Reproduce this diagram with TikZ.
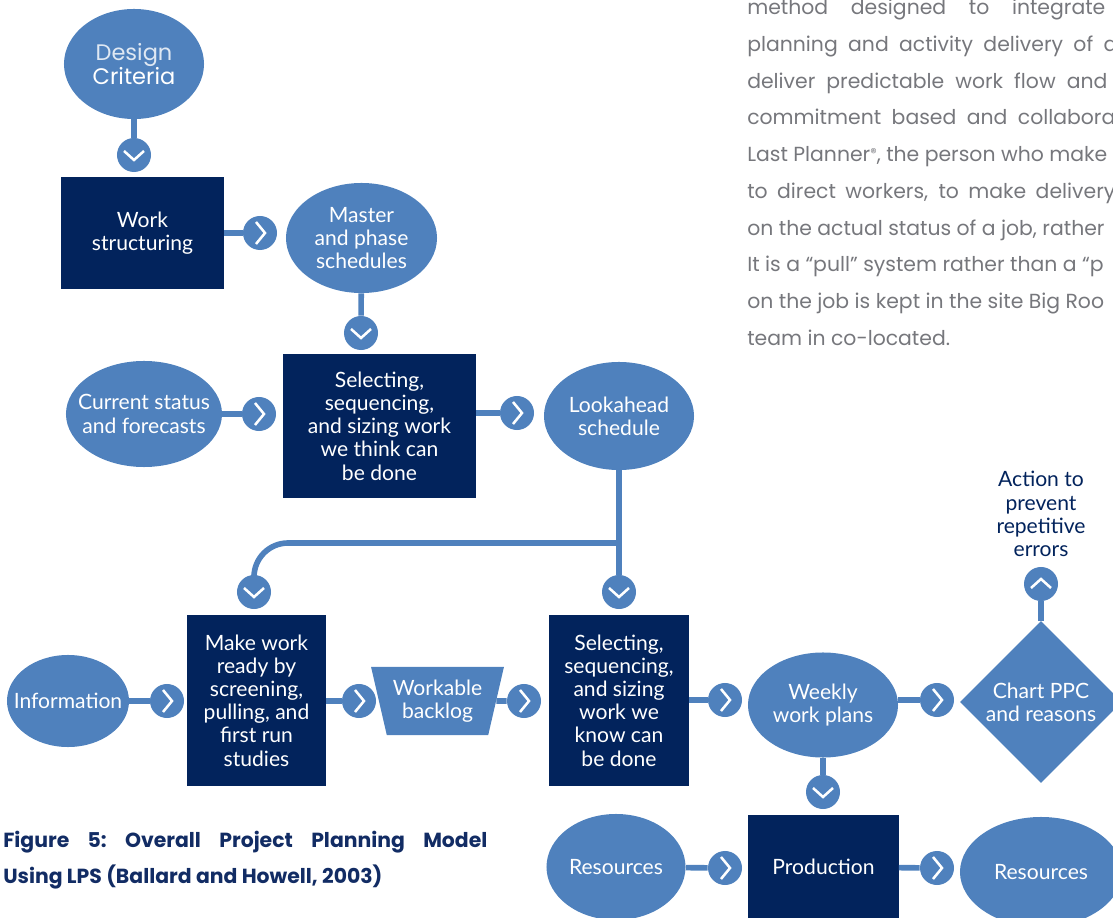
\documentclass[tikz,border=0pt]{standalone}
\usepackage{fontspec}
\setmainfont{Lato}
\newfontfamily\gothfont{Poppins}
\usetikzlibrary{shapes.geometric}

\definecolor{lpsblue}{RGB}{79,129,189}
\definecolor{lpsnavy}{RGB}{2,35,92}
\definecolor{paragray}{RGB}{118,119,124}
\definecolor{capnavy}{RGB}{18,44,100}

\newcommand{\diagfont}{\fontsize{15}{16.5}\selectfont}
\newcommand{\parafont}{\gothfont\fontsize{14.5}{16}\selectfont}

\tikzset{
  oval/.style={ellipse, fill=lpsblue, inner sep=0pt},
  intext/.style={text=white, align=center, font=\diagfont, inner sep=0pt},
  task/.style={rectangle, fill=lpsnavy, inner sep=0pt, text=white, align=center, font=\diagfont},
  link/.style={draw=lpsblue, line width=4pt},
  chev/.style={draw=white, line width=1.8pt},
  hop/.style={circle, fill=lpsblue, minimum size=0.85cm, inner sep=0pt},
  hopright/.style={hop, path picture={\draw[chev] ([shift={(-4,-11)}]path picture bounding box.center) -- ++(9,11) -- ++(-9,11);}},
  hopdown/.style={hop, path picture={\draw[chev] ([shift={(-10,-4)}]path picture bounding box.center) -- ++(10,9) -- ++(10,-9);}},
  hopup/.style={hop, path picture={\draw[chev] ([shift={(-10,4)}]path picture bounding box.center) -- ++(10,-9) -- ++(10,9);}},
  para/.style={anchor=base west, inner sep=0pt, text=paragray, font=\parafont},
  caption/.style={anchor=base west, inner sep=0pt, text=capnavy, font=\gothfont\bfseries\frenchspacing\fontsize{14.5}{16}\selectfont}
}

\begin{document}
\begin{tikzpicture}[x=0.025cm, y=-0.025cm]
  \path[use as bounding box, clip] (0,0) rectangle (1113,918);

  \node[oval, minimum width=3.5cm, minimum height=2.75cm,
    label={[intext, font=\gothfont\fontsize{16}{17}\selectfont]center:{\color{white!82!lpsblue}Design}\\Criteria}] (design) at (134,64) {};
  \node[hopdown] (hop1) at (134,155) {};
  \node[task, minimum width=4.075cm, minimum height=2.775cm] (work) at (142.5,233) {Work\\structuring};
  \node[hopright] (hop2) at (260,233) {};
  \node[oval, minimum width=3.775cm, minimum height=2.75cm,
    label={[intext]center:Master\\and phase\\schedules}] (master) at (361.5,238) {};
  \node[hopdown] (hop3) at (361,333) {};

  \node[oval, minimum width=3.9cm, minimum height=2.65cm,
    label={[intext]center:Current status\\and forecasts}] (current) at (144,414) {};
  \node[hopright] (hop4) at (259,414) {};
  \node[task, minimum width=4.825cm, minimum height=3.6cm] (select1) at (379.5,426) {Selecting,\\sequencing,\\and sizing work\\we think can\\be done};
  \node[hopright] (hop5) at (517,413) {};
  \node[oval, minimum width=3.75cm, minimum height=2.7cm,
    label={[intext]center:Lookahead\\schedule}] (lookahead) at (619,416) {};
  \coordinate (branch) at (619,543);
  \node[hopdown] (hop6) at (619,592) {};
  \node[hopdown] (hop7) at (254,592) {};

  \node[oval, minimum width=3.05cm, minimum height=2.3cm,
    label={[intext]center:Information}] (info) at (68,701) {};
  \node[hopright] (hop8) at (167,701) {};
  \node[task, minimum width=3.475cm, minimum height=4.275cm] (ready) at (256.5,700.5) {Make work\\ready by\\screening,\\pulling, and\\first run\\studies};
  \node[hopright] (hop9) at (359,701) {};
  \node[trapezium, shape border rotate=180, trapezium left angle=72, trapezium right angle=72,
    trapezium stretches=true, fill=lpsblue, intext, minimum width=3.325cm, minimum height=1.7cm] (backlog) at (437.5,701) {Workable\\backlog};
  \node[hopright] (hop10) at (524,701) {};
  \node[task, minimum width=3.5cm, minimum height=4.275cm] (select2) at (619,700.5) {Selecting,\\sequencing,\\and sizing\\work we\\know can\\be done};
  \node[hopright] (hop11) at (725,700) {};
  \node[oval, minimum width=3.75cm, minimum height=2.625cm,
    label={[intext]center:Weekly\\work plans}] (weekly) at (823,705) {};
  \node[hopright] (hop12) at (937,700) {};
  \node[diamond, fill=lpsblue, inner sep=0pt, minimum width=4.05cm, minimum height=4.05cm,
    label={[intext]center:Chart PPC\\and reasons}] (chart) at (1041,702) {};
  \node[hopup] (hop13) at (1041,584) {};
  \node[intext, text=lpsnavy] (action) at (1041,514) {Action to\\prevent\\repetitive\\errors};

  \node[hopdown] (hop14) at (823,792) {};
  \node[oval, minimum width=3.475cm, minimum height=2.65cm,
    label={[intext]center:Resources}] (res1) at (616,867) {};
  \node[hopright] (hop15) at (725,868) {};
  \node[task, minimum width=3.75cm, minimum height=2.6cm] (production) at (823.5,867) {Production};
  \node[hopright] (hop16) at (937,868) {};
  \node[oval, minimum width=4.05cm, minimum height=2.75cm,
    label={[intext]center:Resources}] (res2) at (1041,872) {};

  \draw[link] (design) -- (hop1);
  \draw[link] (work) -- (hop2);
  \draw[link] (master) -- (hop3);
  \draw[link] (current) -- (hop4);
  \draw[link] (select1.east |- hop5) -- (hop5);
  \draw[link] (lookahead) -- (hop6);
  \draw[link, rounded corners=0.85cm] (branch) -| (hop7);
  \draw[link] (info) -- (hop8);
  \draw[link] (ready.east |- hop9) -- (hop9);
  \draw[link] (backlog) -- (hop10);
  \draw[link] (select2.east |- hop11) -- (hop11);
  \draw[link] (weekly.east |- hop12) -- (hop12);
  \draw[link] (chart) -- (hop13);
  \draw[link] (weekly) -- (hop14);
  \draw[link] (res1) -- (hop15);
  \draw[link] (production) -- (hop16);

  \node[para] (p1) at (747,15) {\makebox[8.95cm][s]{method designed to integrate}};
  \node[para] (p2) at (747,52) {\makebox[9.25cm][s]{planning and activity delivery of a}};
  \node[para] (p3) at (747,89) {\makebox[9.0cm][s]{deliver predictable work flow and}};
  \node[para] (p4) at (747,125) {\makebox[9.2cm][s]{commitment based and collabora}};
  \node[para] (p5) at (747,162) {Last Planner{\fontsize{9}{9}\selectfont\raisebox{0.7ex}{®}}, the person who make};
  \node[para] (p6) at (747,199) {\makebox[9.2cm][s]{to direct workers, to make delivery}};
  \node[para] (p7) at (747,236) {on the actual status of a job, rather};
  \node[para] (p8) at (747,272) {It is a “pull” system rather than a “p};
  \node[para] (p9) at (747,309) {on the job is kept in the site Big Roo};
  \node[para] (p10) at (747,346) {team in co-located.};

  \node[caption] (cap1) at (3,847) {\makebox[12.1cm][s]{Figure 5: Overall Project Planning Model}};
  \node[caption] (cap2) at (3,883) {Using LPS (Ballard and Howell, 2003)};
\end{tikzpicture}
\end{document}
